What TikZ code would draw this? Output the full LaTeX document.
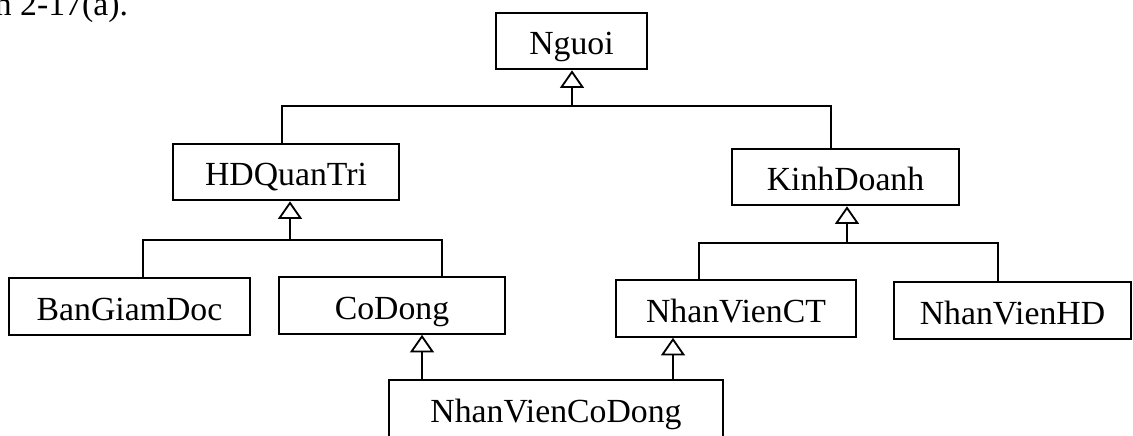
\documentclass[tikz,border=0pt]{standalone}
\usepackage{fontspec}
\setmainfont{Liberation Serif}
\usetikzlibrary{arrows.meta}

\tikzset{
  cls/.style={draw, line width=1.3pt, inner sep=0pt, text height=29.8pt, text depth=10.6pt,
    font=\fontsize{24}{28}\selectfont},
  inh/.style={-{Triangle[open, length=0.44cm, width=0.6cm]}, line width=1.3pt},
}

\begin{document}
\begin{tikzpicture}[x=0.025cm, y=-0.025cm, line width=1.3pt]
  \useasboundingbox (0,0) rectangle (1133,435);
  \node[anchor=base west, inner sep=0pt, font=\fontsize{24}{28}\selectfont] (cap) at (-6,15) {n 2-17(a).};
  \node[cls, minimum width=3.775cm] (nguoi) at (571.5,41) {Nguoi};
  \node[cls, minimum width=5.65cm] (hd) at (286,172) {HDQuanTri};
  \node[cls, minimum width=5.675cm] (kd) at (845.5,177) {KinhDoanh};
  \node[cls, minimum width=6.025cm] (bgd) at (129.5,306.5) {BanGiamDoc};
  \node[cls, minimum width=5.65cm] (codong) at (392,305.5) {CoDong};
  \node[cls, minimum width=6cm] (nvct) at (736,308.5) {NhanVienCT};
  \node[cls, minimum width=5.925cm] (nvhd) at (1012.5,310.5) {NhanVienHD};
  \node[cls, minimum width=8.35cm] (nvcd) at (556,408.5) {NhanVienCoDong};

  \coordinate (j1) at (572,106);
  \coordinate (j2) at (290,240);
  \coordinate (j3) at (847,243);

  \draw[inh] (j1) -- (nguoi.south -| j1);
  \draw (hd.north -| 282,0) |- (j1) -| (kd.north -| 831,0);
  \draw[inh] (j2) -- (hd.south -| j2);
  \draw (bgd.north -| 143,0) |- (j2) -| (codong.north -| 442,0);
  \draw[inh] (j3) -- (kd.south -| j3);
  \draw (nvct.north -| 699,0) |- (j3) -| (nvhd.north -| 998,0);
  \draw[inh] (nvcd.north -| 422,0) -- (codong.south -| 422,0);
  \draw[inh] (nvcd.north -| 673,0) -- (nvct.south -| 673,0);
\end{tikzpicture}
\end{document}
